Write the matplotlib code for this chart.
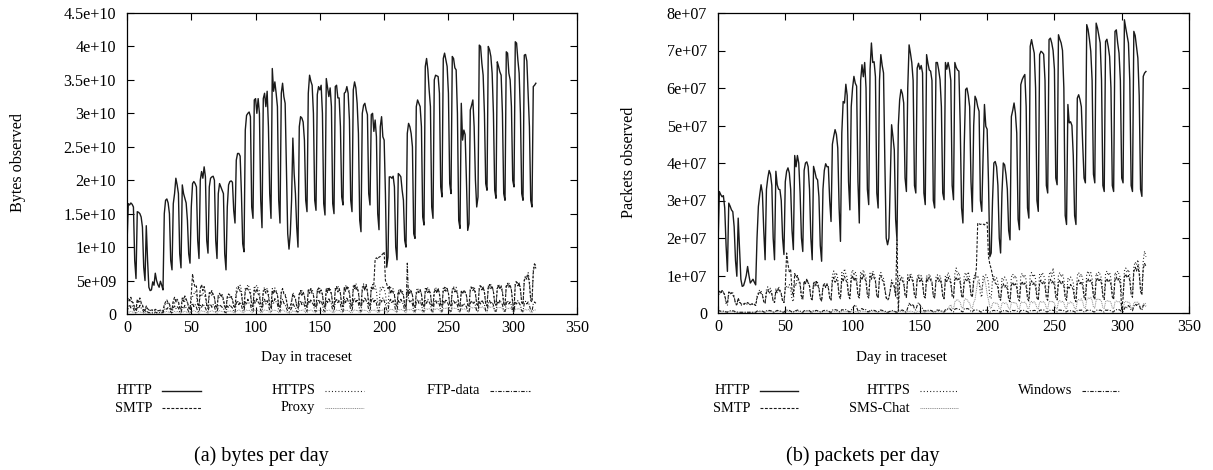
import numpy as np
import matplotlib
matplotlib.use("Agg")
import matplotlib.pyplot as plt
from matplotlib.lines import Line2D

plt.rcParams['font.family'] = ['Liberation Serif', 'DejaVu Serif']

# ---------------------------------------------------------------- data
# one value per day (day 0 .. 318); rows are Mon..Sun weeks after day 0

# (a) bytes per day, HTTP in units of 1e9 bytes
HTTP_BYTES = [10.5,
    16.5, 16.3, 16.6, 16.4, 16.0, 8.0, 5.3,
    15.3, 15.2, 15.0, 14.5, 13.0, 7.0, 5.0,
    13.2, 8.0, 4.0, 3.5, 3.6, 4.8, 4.3,
    6.1, 5.0, 4.4, 4.0, 4.9, 4.3, 3.6,
    15.0, 17.0, 17.2, 16.6, 15.0, 8.0, 6.6,
    16.5, 18.0, 20.3, 19.3, 18.0, 9.0, 6.9,
    19.3, 18.0, 17.3, 16.6, 14.0, 9.0, 7.6,
    16.0, 19.5, 19.8, 19.5, 19.0, 11.0, 8.3,
    20.0, 21.3, 20.3, 22.0, 20.5, 11.0, 9.1,
    19.0, 20.3, 20.5, 20.6, 20.0, 11.0, 8.3,
    18.0, 19.5, 19.0, 18.5, 18.0, 9.0, 6.6,
    16.0, 19.3, 19.8, 19.9, 19.7, 15.5, 13.6,
    23.0, 24.0, 24.0, 23.6, 18.0, 10.5, 9.3,
    27.5, 29.7, 30.0, 30.2, 29.5, 16.0, 14.3,
    32.0, 32.2, 30.0, 32.2, 30.0, 17.0, 12.9,
    32.2, 33.0, 31.0, 33.3, 28.0, 18.0, 14.3,
    36.7, 33.3, 34.7, 33.0, 31.0, 17.0, 13.6,
    33.0, 34.5, 32.5, 31.5, 22.0, 12.0, 9.7,
    12.0, 17.0, 26.3, 21.0, 18.0, 13.0, 10.0,
    28.0, 29.5, 29.3, 28.7, 26.0, 17.0, 15.3,
    33.0, 35.7, 34.8, 34.2, 30.0, 17.0, 15.5,
    32.8, 34.0, 33.5, 34.2, 30.0, 16.5, 14.8,
    35.2, 33.8, 32.5, 33.8, 31.0, 16.5, 15.0,
    34.0, 34.2, 32.3, 32.3, 28.0, 17.5, 16.3,
    33.0, 33.2, 34.0, 33.0, 29.0, 17.0, 15.3,
    33.5, 34.7, 33.8, 31.5, 27.0, 14.0, 12.3,
    30.0, 31.2, 31.5, 30.5, 29.8, 18.0, 16.3,
    29.8, 30.0, 27.3, 29.0, 26.5, 15.0, 12.6,
    28.0, 29.5, 26.5, 26.0, 18.0, 7.0, 8.5,
    20.5, 20.5, 20.3, 20.6, 19.0, 10.0, 8.1,
    21.0, 20.8, 20.5, 18.5, 17.0, 11.0, 10.0,
    27.0, 28.5, 28.0, 27.0, 25.0, 12.0, 11.3,
    31.0, 32.0, 31.5, 31.0, 28.0, 14.5, 13.3,
    37.0, 38.2, 36.5, 33.5, 31.0, 16.0, 14.3,
    35.0, 35.7, 35.6, 35.5, 33.0, 19.0, 17.5,
    38.2, 39.0, 38.0, 37.0, 33.0, 19.5, 18.0,
    38.5, 38.2, 36.8, 36.5, 30.0, 14.0, 12.8,
    31.5, 26.0, 27.5, 26.8, 20.0, 12.5, 13.5,
    30.5, 31.2, 32.0, 28.0, 20.0, 16.0, 17.5,
    40.2, 40.0, 37.5, 35.7, 30.0, 19.5, 18.5,
    40.0, 39.5, 38.5, 36.0, 30.0, 18.5, 17.3,
    37.7, 37.0, 36.2, 35.7, 30.0, 18.0, 17.0,
    39.2, 39.0, 36.0, 35.0, 31.0, 20.0, 19.0,
    40.7, 40.5, 38.0, 36.0, 30.0, 18.0, 17.0,
    38.7, 38.8, 37.8, 33.0, 28.0, 17.0, 16.0,
    34.0, 34.2, 34.5]

# (a) other protocols, units of 1e8 bytes
SMTP_BYTES = [20,
    24, 20, 25, 18, 16, 8, 6,
    22, 18, 24, 17, 14, 7, 5,
    12, 8, 6, 5, 6, 6, 5,
    7, 6, 5, 5, 6, 5, 4,
    14, 18, 21, 16, 15, 8, 6,
    20, 25, 18, 22, 19, 9, 7,
    24, 19, 27, 22, 18, 10, 7,
    30, 60, 46, 40, 42, 16, 11,
    38, 44, 35, 41, 30, 14, 10,
    32, 30, 35, 28, 25, 12, 9,
    28, 31, 26, 29, 22, 11, 8,
    26, 30, 28, 25, 22, 12, 9,
    30, 36, 40, 34, 30, 14, 10,
    34, 40, 37, 34, 30, 13, 11,
    36, 32, 38, 30, 28, 12, 10,
    33, 37, 31, 35, 27, 12, 10,
    35, 30, 36, 33, 28, 12, 9,
    32, 38, 30, 28, 20, 10, 8,
    10, 18, 30, 26, 22, 12, 9,
    30, 35, 28, 33, 27, 13, 10,
    36, 31, 38, 30, 28, 12, 10,
    33, 39, 31, 36, 29, 13, 10,
    38, 32, 40, 34, 30, 13, 11,
    35, 41, 33, 38, 30, 14, 11,
    40, 34, 42, 36, 31, 14, 11,
    38, 44, 36, 40, 32, 14, 12,
    36, 42, 35, 44, 33, 15, 12,
    40, 36, 45, 82, 84, 82, 85,
    86, 88, 90, 93, 50, 45, 38,
    42, 30, 36, 32, 28, 14, 12,
    34, 30, 36, 31, 28, 13, 10,
    32, 36, 30, 34, 28, 12, 10,
    30, 35, 32, 36, 30, 13, 11,
    34, 38, 32, 36, 30, 13, 11,
    33, 37, 31, 38, 30, 14, 11,
    36, 40, 34, 38, 31, 14, 12,
    35, 39, 33, 36, 30, 13, 11,
    34, 30, 36, 33, 28, 13, 11,
    36, 40, 35, 38, 30, 15, 12,
    38, 42, 36, 40, 32, 15, 12,
    40, 44, 38, 42, 33, 16, 13,
    38, 43, 37, 41, 32, 15, 12,
    42, 46, 40, 44, 35, 16, 5,
    44, 48, 42, 46, 36, 17, 14,
    50, 55, 52, 58, 45, 20, 18,
    62, 75, 68]

HTTPS_BYTES = [15,
    18, 22, 17, 20, 15, 8, 6,
    20, 16, 19, 15, 12, 6, 5,
    10, 7, 6, 5, 5, 5, 4,
    6, 5, 5, 4, 5, 4, 4,
    12, 16, 15, 18, 14, 7, 5,
    18, 16, 22, 17, 16, 8, 6,
    20, 24, 18, 22, 17, 9, 6,
    22, 26, 30, 34, 28, 12, 9,
    30, 26, 32, 28, 25, 11, 8,
    28, 32, 27, 30, 24, 10, 8,
    26, 24, 29, 25, 20, 9, 7,
    24, 27, 23, 28, 22, 11, 9,
    38, 42, 40, 43, 36, 16, 12,
    40, 38, 44, 40, 35, 15, 12,
    42, 39, 43, 38, 34, 14, 11,
    36, 40, 35, 38, 32, 13, 10,
    38, 34, 39, 35, 30, 12, 10,
    34, 37, 32, 30, 22, 10, 8,
    12, 20, 32, 28, 24, 12, 9,
    32, 28, 35, 30, 27, 13, 10,
    34, 38, 33, 37, 30, 14, 11,
    38, 33, 39, 34, 30, 13, 11,
    35, 40, 34, 38, 31, 14, 11,
    40, 36, 42, 37, 32, 14, 12,
    37, 43, 38, 41, 33, 15, 12,
    42, 38, 46, 40, 34, 15, 12,
    40, 45, 38, 43, 34, 15, 12,
    38, 44, 36, 42, 34, 15, 12,
    40, 36, 42, 38, 30, 14, 12,
    36, 40, 34, 38, 30, 14, 11,
    34, 38, 33, 36, 29, 13, 11,
    36, 32, 38, 34, 28, 13, 10,
    35, 39, 33, 37, 30, 14, 11,
    38, 34, 40, 36, 30, 14, 11,
    36, 40, 35, 39, 31, 14, 12,
    39, 35, 41, 37, 31, 15, 12,
    37, 41, 36, 40, 32, 15, 12,
    34, 30, 35, 32, 28, 13, 11,
    38, 42, 37, 41, 33, 15, 12,
    40, 44, 38, 42, 34, 16, 13,
    42, 38, 44, 40, 34, 16, 13,
    40, 45, 39, 43, 35, 16, 13,
    44, 40, 46, 42, 36, 17, 14,
    46, 50, 44, 48, 38, 18, 15,
    52, 58, 55, 62, 50, 24, 20,
    66, 76, 72]

PROXY_BYTES = [2,
    3, 3, 4, 3, 3, 1, 1,
    3, 4, 3, 3, 2, 1, 1,
    2, 1, 1, 1, 1, 1, 1,
    1, 1, 1, 1, 1, 1, 1,
    3, 3, 4, 3, 3, 1, 1,
    3, 4, 3, 4, 3, 1, 1,
    4, 3, 4, 3, 3, 1, 1,
    4, 4, 5, 4, 3, 2, 1,
    4, 5, 4, 4, 3, 2, 1,
    4, 4, 5, 4, 3, 2, 1,
    4, 5, 4, 4, 3, 2, 1,
    4, 4, 5, 4, 3, 2, 1,
    5, 5, 6, 5, 4, 2, 2,
    5, 6, 5, 6, 4, 2, 2,
    6, 5, 6, 5, 4, 2, 2,
    5, 6, 5, 6, 4, 2, 2,
    6, 5, 6, 5, 4, 2, 2,
    5, 6, 5, 4, 3, 2, 1,
    2, 3, 5, 4, 4, 2, 2,
    5, 6, 5, 6, 4, 2, 2,
    6, 5, 6, 5, 4, 2, 2,
    5, 6, 5, 6, 4, 2, 2,
    6, 5, 6, 5, 4, 2, 2,
    5, 6, 5, 6, 4, 2, 2,
    6, 5, 6, 5, 4, 2, 2,
    5, 6, 5, 6, 4, 2, 2,
    6, 5, 6, 5, 4, 2, 2,
    5, 6, 5, 6, 4, 2, 2,
    6, 5, 6, 5, 4, 2, 2,
    6, 7, 6, 7, 5, 3, 2,
    7, 6, 7, 6, 5, 3, 2,
    6, 7, 6, 7, 5, 3, 2,
    7, 6, 7, 6, 5, 3, 2,
    7, 8, 7, 8, 6, 3, 2,
    8, 7, 8, 7, 6, 3, 2,
    8, 9, 8, 9, 7, 3, 3,
    9, 8, 9, 8, 7, 3, 3,
    8, 7, 8, 7, 6, 3, 3,
    9, 10, 9, 10, 8, 4, 3,
    10, 9, 11, 10, 8, 4, 3,
    10, 11, 10, 11, 9, 4, 3,
    9, 10, 9, 10, 8, 4, 3,
    8, 9, 8, 9, 7, 3, 3,
    7, 8, 7, 8, 6, 3, 3,
    6, 7, 6, 7, 5, 3, 2,
    5, 6, 6]

FTP_BYTES = [4,
    10, 14, 9, 12, 8, 3, 2,
    11, 8, 13, 9, 7, 3, 2,
    5, 3, 2, 2, 2, 2, 2,
    3, 2, 2, 2, 3, 2, 2,
    6, 9, 7, 10, 8, 3, 2,
    9, 12, 8, 11, 9, 3, 2,
    10, 8, 13, 9, 8, 3, 2,
    12, 16, 11, 14, 10, 4, 3,
    13, 10, 15, 12, 9, 4, 3,
    12, 15, 10, 14, 11, 4, 3,
    11, 14, 12, 10, 9, 3, 2,
    12, 10, 14, 11, 9, 4, 3,
    16, 20, 14, 18, 13, 5, 4,
    18, 14, 22, 16, 14, 5, 4,
    20, 16, 24, 18, 15, 5, 4,
    17, 22, 15, 20, 14, 5, 4,
    21, 16, 23, 18, 15, 5, 4,
    18, 22, 16, 14, 9, 4, 3,
    5, 9, 16, 12, 10, 4, 3,
    16, 20, 14, 18, 13, 5, 4,
    20, 16, 22, 17, 14, 5, 4,
    17, 22, 16, 20, 14, 5, 4,
    21, 17, 24, 18, 15, 5, 4,
    18, 23, 17, 21, 15, 5, 4,
    22, 17, 25, 19, 16, 6, 4,
    19, 24, 18, 22, 16, 6, 4,
    22, 18, 25, 20, 16, 6, 4,
    20, 24, 18, 22, 16, 6, 4,
    22, 18, 24, 20, 14, 5, 4,
    18, 22, 16, 20, 14, 5, 4,
    20, 16, 22, 18, 14, 5, 4,
    76, 22, 18, 21, 15, 5, 4,
    18, 22, 16, 20, 14, 5, 4,
    20, 16, 22, 18, 14, 5, 4,
    17, 21, 16, 19, 14, 5, 4,
    20, 16, 22, 18, 14, 5, 4,
    17, 21, 16, 19, 13, 5, 4,
    14, 12, 16, 13, 11, 4, 3,
    16, 20, 15, 18, 13, 5, 4,
    19, 15, 21, 17, 14, 5, 4,
    16, 20, 15, 18, 13, 5, 4,
    19, 15, 21, 17, 14, 5, 4,
    16, 20, 15, 18, 13, 5, 4,
    18, 15, 20, 16, 13, 5, 4,
    16, 19, 15, 18, 13, 5, 4,
    15, 18, 16]

# (b) packets per day, HTTP in units of 1e6 packets
HTTP_PKTS = [18.0,
    32.4, 31.6, 31.0, 31.3, 28.0, 18.0, 11.1,
    29.3, 28.5, 27.5, 27.0, 23.0, 14.0, 9.8,
    25.3, 17.0, 9.0, 7.1, 7.3, 8.5, 10.0,
    12.4, 10.0, 8.0, 8.5, 9.0, 8.2, 7.5,
    20.0, 28.4, 31.5, 34.2, 32.0, 22.0, 14.2,
    33.0, 36.0, 38.0, 37.0, 34.0, 20.0, 14.2,
    37.8, 34.2, 33.0, 32.9, 30.0, 20.0, 15.6,
    35.0, 37.8, 38.7, 37.3, 33.0, 22.0, 16.9,
    42.0, 39.0, 42.0, 40.0, 32.0, 20.0, 16.4,
    38.0, 40.0, 40.3, 39.0, 33.0, 20.0, 14.2,
    39.1, 37.7, 36.0, 35.5, 31.0, 18.0, 13.8,
    33.0, 38.0, 39.8, 39.0, 39.0, 30.0, 24.4,
    45.0, 47.1, 48.9, 47.6, 44.0, 28.0, 19.1,
    48.0, 56.4, 56.0, 61.0, 58.0, 35.0, 27.5,
    55.0, 60.0, 63.1, 61.3, 60.5, 35.0, 24.0,
    62.0, 66.2, 63.0, 66.8, 60.0, 33.0, 28.9,
    65.0, 72.0, 66.8, 67.0, 63.0, 32.0, 28.0,
    62.0, 68.9, 66.0, 64.0, 40.0, 20.0, 18.2,
    20.0, 35.0, 50.2, 47.0, 43.5, 25.0, 19.5,
    50.0, 56.9, 59.6, 58.5, 56.0, 36.0, 32.4,
    60.0, 71.5, 69.3, 66.8, 62.0, 34.0, 32.0,
    65.3, 66.6, 65.0, 66.0, 64.0, 32.0, 28.9,
    68.9, 66.6, 64.8, 64.5, 62.0, 30.0, 28.0,
    66.8, 66.8, 64.8, 62.2, 55.0, 32.0, 30.2,
    66.8, 65.0, 66.8, 65.0, 62.0, 34.0, 30.2,
    66.8, 65.5, 64.8, 64.5, 50.0, 28.0, 24.0,
    45.0, 59.6, 60.0, 58.0, 55.0, 35.0, 27.0,
    50.0, 57.8, 56.9, 55.0, 53.8, 30.0, 27.1,
    42.0, 55.6, 49.8, 49.0, 35.0, 15.0, 16.0,
    30.0, 40.0, 40.4, 39.0, 34.0, 20.0, 16.0,
    32.0, 40.0, 39.5, 36.9, 33.0, 22.0, 19.5,
    52.4, 54.0, 56.0, 53.3, 48.0, 25.0, 22.2,
    60.9, 62.2, 63.0, 63.6, 55.0, 28.0, 25.3,
    71.1, 72.9, 71.0, 69.3, 60.0, 30.0, 27.1,
    68.9, 69.8, 69.5, 69.0, 62.0, 34.0, 32.0,
    72.9, 73.3, 72.0, 70.0, 65.0, 36.0, 34.2,
    74.2, 73.0, 72.0, 70.0, 60.0, 26.0, 23.6,
    55.6, 50.7, 51.0, 50.0, 42.0, 26.0, 23.6,
    57.3, 58.2, 56.9, 55.0, 45.0, 36.0, 34.7,
    76.9, 75.6, 73.0, 69.8, 62.0, 37.0, 34.7,
    77.3, 76.0, 74.0, 72.0, 62.0, 34.0, 32.4,
    72.4, 73.0, 71.0, 68.4, 60.0, 34.0, 32.4,
    75.1, 75.5, 72.0, 69.3, 62.0, 36.0, 34.7,
    78.2, 76.0, 74.0, 72.0, 62.0, 34.0, 32.4,
    75.1, 74.0, 71.1, 68.0, 58.0, 33.0, 31.1,
    63.1, 64.0, 64.4]

# (b) other protocols, units of 1e5 packets
SMTP_PKTS = [45,
    58, 52, 60, 55, 48, 30, 25,
    56, 50, 54, 48, 42, 26, 22,
    40, 30, 25, 22, 24, 26, 24,
    28, 25, 22, 24, 26, 23, 20,
    40, 50, 58, 52, 48, 30, 26,
    55, 62, 52, 58, 50, 32, 28,
    60, 54, 66, 58, 50, 32, 28,
    70, 160, 130, 110, 115, 60, 45,
    105, 95, 100, 88, 80, 45, 38,
    85, 78, 90, 80, 72, 40, 35,
    80, 72, 84, 74, 66, 38, 32,
    70, 78, 68, 76, 66, 40, 34,
    85, 95, 82, 90, 80, 45, 38,
    92, 84, 98, 88, 80, 45, 38,
    90, 100, 86, 95, 82, 46, 40,
    95, 88, 102, 92, 84, 46, 40,
    98, 90, 104, 94, 84, 47, 40,
    92, 100, 88, 84, 62, 40, 34,
    40, 60, 82, 76, 70, 45, 195,
    5, 85, 92, 86, 80, 48, 42,
    94, 86, 98, 90, 82, 46, 40,
    88, 96, 84, 92, 80, 45, 40,
    92, 85, 96, 88, 80, 45, 40,
    86, 94, 84, 90, 78, 44, 38,
    90, 84, 95, 88, 80, 45, 40,
    88, 96, 86, 92, 80, 45, 40,
    82, 90, 84, 92, 80, 48, 42,
    85, 92, 120, 240, 238, 236, 238,
    237, 235, 240, 242, 150, 130, 118,
    100, 88, 80, 76, 68, 40, 34,
    70, 78, 68, 74, 64, 36, 30,
    74, 82, 72, 78, 68, 38, 32,
    76, 84, 74, 80, 70, 38, 32,
    78, 86, 76, 82, 70, 40, 34,
    80, 88, 78, 84, 72, 40, 34,
    82, 90, 80, 86, 74, 42, 35,
    80, 88, 78, 84, 72, 40, 34,
    72, 66, 76, 70, 62, 36, 30,
    80, 88, 78, 84, 72, 42, 35,
    84, 92, 82, 88, 76, 44, 36,
    86, 94, 84, 90, 78, 44, 36,
    84, 92, 82, 88, 76, 43, 36,
    88, 96, 86, 92, 78, 8, 40,
    96, 104, 94, 100, 86, 50, 42,
    110, 122, 112, 126, 104, 58, 48,
    118, 132, 125]

HTTPS_PKTS = [40,
    55, 60, 52, 58, 45, 25, 20,
    52, 58, 50, 54, 44, 24, 20,
    35, 28, 22, 20, 22, 24, 22,
    26, 24, 22, 22, 24, 22, 20,
    45, 55, 62, 58, 50, 30, 26,
    62, 70, 60, 66, 56, 32, 28,
    66, 58, 70, 62, 54, 32, 28,
    62, 72, 68, 76, 64, 36, 30,
    80, 72, 96, 84, 72, 40, 34,
    86, 78, 92, 82, 72, 40, 34,
    78, 86, 74, 82, 70, 38, 32,
    72, 80, 70, 78, 70, 42, 36,
    100, 112, 96, 108, 92, 50, 42,
    108, 98, 118, 104, 95, 52, 44,
    104, 115, 100, 110, 96, 52, 44,
    110, 100, 115, 104, 95, 52, 44,
    106, 98, 112, 102, 92, 50, 42,
    100, 108, 96, 92, 70, 42, 36,
    40, 62, 88, 80, 72, 46, 40,
    92, 100, 94, 98, 86, 50, 42,
    102, 94, 106, 98, 88, 50, 42,
    96, 104, 92, 100, 86, 48, 42,
    100, 92, 104, 96, 86, 48, 42,
    95, 102, 92, 100, 85, 48, 40,
    100, 94, 108, 98, 88, 50, 42,
    104, 120, 100, 108, 92, 52, 44,
    100, 108, 96, 110, 92, 52, 44,
    96, 104, 94, 100, 88, 50, 42,
    98, 92, 102, 96, 80, 44, 38,
    90, 98, 88, 94, 82, 44, 38,
    92, 86, 96, 90, 80, 44, 38,
    96, 104, 92, 100, 86, 48, 40,
    98, 106, 94, 102, 88, 48, 40,
    100, 108, 96, 104, 90, 50, 42,
    104, 96, 108, 100, 90, 50, 42,
    102, 110, 98, 120, 92, 52, 44,
    100, 108, 96, 104, 90, 50, 42,
    92, 86, 96, 90, 80, 46, 40,
    100, 108, 96, 104, 90, 52, 44,
    104, 112, 100, 108, 92, 52, 44,
    106, 98, 110, 102, 92, 52, 44,
    104, 112, 100, 108, 92, 52, 44,
    108, 100, 112, 104, 94, 54, 46,
    112, 120, 108, 116, 100, 58, 48,
    124, 136, 128, 142, 118, 68, 56,
    140, 165, 150]

SMS_PKTS = [2,
    3, 4, 3, 4, 3, 2, 2,
    3, 4, 3, 4, 3, 2, 2,
    2, 2, 2, 2, 2, 2, 2,
    2, 2, 2, 2, 2, 2, 2,
    3, 4, 3, 4, 3, 2, 2,
    4, 5, 4, 5, 4, 2, 2,
    4, 5, 4, 5, 4, 2, 2,
    4, 5, 4, 5, 4, 2, 2,
    5, 4, 5, 4, 4, 2, 2,
    4, 5, 4, 5, 4, 2, 2,
    5, 4, 5, 4, 4, 2, 2,
    4, 5, 4, 5, 4, 2, 2,
    5, 4, 5, 4, 4, 2, 2,
    4, 5, 4, 5, 4, 2, 2,
    5, 4, 5, 4, 4, 2, 2,
    4, 5, 4, 5, 4, 2, 2,
    5, 4, 5, 4, 4, 2, 2,
    4, 5, 4, 4, 3, 2, 2,
    3, 4, 4, 5, 4, 2, 2,
    4, 5, 4, 5, 4, 2, 2,
    5, 4, 5, 4, 4, 2, 2,
    4, 5, 4, 5, 4, 2, 2,
    5, 4, 5, 4, 4, 2, 2,
    4, 5, 4, 5, 4, 2, 2,
    5, 8, 12, 18, 22, 12, 10,
    30, 34, 36, 32, 28, 15, 12,
    34, 38, 36, 30, 26, 14, 12,
    28, 36, 60, 85, 80, 70, 60,
    82, 90, 75, 50, 35, 15, 12,
    25, 28, 26, 27, 24, 12, 10,
    26, 28, 25, 27, 23, 12, 10,
    27, 29, 26, 28, 24, 12, 10,
    28, 30, 27, 29, 25, 13, 11,
    28, 31, 27, 30, 25, 13, 11,
    29, 31, 28, 30, 26, 13, 11,
    30, 32, 29, 31, 26, 13, 11,
    30, 33, 29, 31, 27, 14, 11,
    28, 26, 30, 27, 24, 12, 10,
    32, 36, 34, 38, 30, 15, 12,
    36, 40, 38, 42, 34, 16, 13,
    34, 38, 35, 37, 30, 15, 12,
    30, 33, 31, 32, 28, 14, 11,
    29, 32, 30, 31, 27, 13, 11,
    28, 31, 29, 30, 26, 13, 11,
    27, 30, 28, 29, 25, 12, 10,
    24, 26, 25]

WIN_PKTS = [4,
    6, 5, 6, 5, 5, 3, 2,
    5, 6, 5, 6, 5, 3, 2,
    3, 2, 2, 2, 2, 2, 2,
    2, 2, 2, 2, 2, 2, 2,
    5, 6, 5, 6, 5, 3, 2,
    6, 5, 7, 6, 5, 3, 2,
    5, 7, 6, 5, 5, 3, 2,
    6, 8, 6, 7, 5, 3, 2,
    7, 6, 8, 6, 5, 3, 2,
    6, 7, 6, 8, 6, 3, 2,
    7, 6, 7, 6, 5, 3, 2,
    6, 7, 6, 7, 6, 3, 2,
    8, 7, 9, 8, 7, 4, 3,
    9, 8, 10, 9, 7, 4, 3,
    8, 12, 18, 22, 15, 6, 4,
    10, 12, 9, 11, 8, 4, 3,
    8, 7, 8, 7, 6, 3, 3,
    7, 8, 7, 6, 5, 3, 2,
    3, 5, 7, 6, 5, 3, 2,
    7, 8, 7, 8, 6, 3, 3,
    14, 26, 22, 18, 24, 10, 8,
    20, 28, 22, 16, 12, 6, 5,
    8, 7, 8, 7, 6, 3, 3,
    7, 8, 7, 8, 6, 3, 3,
    9, 11, 10, 12, 9, 4, 3,
    10, 12, 11, 10, 9, 4, 3,
    11, 10, 12, 11, 9, 4, 3,
    8, 7, 8, 7, 6, 3, 3,
    7, 8, 7, 8, 6, 3, 3,
    6, 7, 6, 7, 6, 3, 2,
    7, 6, 7, 6, 5, 3, 2,
    6, 7, 6, 7, 6, 3, 2,
    7, 6, 7, 6, 5, 3, 2,
    6, 7, 6, 7, 6, 3, 2,
    7, 8, 7, 8, 6, 3, 3,
    8, 7, 8, 7, 6, 3, 3,
    7, 8, 7, 8, 6, 3, 3,
    6, 5, 6, 5, 5, 3, 2,
    7, 8, 7, 8, 6, 3, 3,
    8, 7, 8, 7, 6, 3, 3,
    7, 8, 7, 8, 6, 3, 3,
    8, 7, 8, 7, 6, 3, 3,
    8, 9, 8, 9, 7, 3, 3,
    12, 18, 14, 20, 16, 8, 6,
    18, 24, 20, 26, 22, 10, 8,
    20, 22, 18]

X_TICKS = [0, 50, 100, 150, 200, 250, 300, 350]
BYTES_YTICKS = [0, 5e9, 1e10, 1.5e10, 2e10, 2.5e10, 3e10, 3.5e10, 4e10, 4.5e10]
BYTES_YLABELS = ["0", "5e+09", "1e+10", "1.5e+10", "2e+10", "2.5e+10",
                 "3e+10", "3.5e+10", "4e+10", "4.5e+10"]
PKTS_YTICKS = [0, 1e7, 2e7, 3e7, 4e7, 5e7, 6e7, 7e7, 8e7]
PKTS_YLABELS = ["0", "1e+07", "2e+07", "3e+07", "4e+07", "5e+07",
                "6e+07", "7e+07", "8e+07"]

# ---------------------------------------------------------------- styles
INK = '#1a1a1a'
STYLES = {
    'solid':   dict(color=INK, lw=1.0, ls='-'),
    'dashed':  dict(color=INK, lw=0.8, ls=(0, (2.6, 1.4))),
    'dotted':  dict(color=INK, lw=0.8, ls=(0, (0.9, 2.0))),
    'fine':    dict(color='#8a8a8a', lw=0.7, ls=(0, (1.0, 0.9))),
    'dashdot': dict(color=INK, lw=0.8, ls=(0, (3.2, 1.4, 0.9, 1.4))),
}

W, H = 1213, 470
fig = plt.figure(figsize=(W / 100, H / 100), dpi=100)


def px_box(x0, x1, ytop, ybot):
    return [x0 / W, 1 - ybot / H, (x1 - x0) / W, (ybot - ytop) / H]


def fx(x):
    return x / W


def fy(y):
    return 1 - y / H


TICK_FS = 11.6
LEG_FS = 10.4


def setup_axes(ax, ymax, yticks, ylabels):
    ax.set_xlim(0, 350)
    ax.set_ylim(0, ymax)
    ax.set_xticks(X_TICKS)
    ax.set_xticklabels([str(t) for t in X_TICKS])
    ax.set_yticks(yticks)
    ax.set_yticklabels(ylabels)
    ax.tick_params(direction='in', length=5, width=0.8, top=True, right=True,
                   labelsize=TICK_FS, color='black')
    ax.tick_params(axis='x', pad=4.5)
    ax.tick_params(axis='y', pad=8)
    for s in ax.spines.values():
        s.set_linewidth(0.9)
        s.set_color('black')


def draw_legend(entries):
    # entries: (label, style, text_right_x, line_x0, line_x1, row_y) in pixels
    for label, style, xr, l0, l1, yy in entries:
        fig.text(fx(xr), fy(yy), label, ha='right', va='center', fontsize=LEG_FS)
        st = STYLES[style]
        fig.add_artist(Line2D([fx(l0), fx(l1)], [fy(yy), fy(yy)],
                              transform=fig.transFigure, color=st['color'],
                              lw=st['lw'], ls=st['ls']))


# ---------------------------------------------------------------- (a) bytes
axA = fig.add_axes(px_box(127, 577, 13, 314))
axA.plot(np.arange(len(PROXY_BYTES)), np.array(PROXY_BYTES) * 1e8, **STYLES['fine'])
axA.plot(np.arange(len(FTP_BYTES)), np.array(FTP_BYTES) * 1e8, **STYLES['dashdot'])
axA.plot(np.arange(len(HTTPS_BYTES)), np.array(HTTPS_BYTES) * 1e8, **STYLES['dotted'])
axA.plot(np.arange(len(SMTP_BYTES)), np.array(SMTP_BYTES) * 1e8, **STYLES['dashed'])
axA.plot(np.arange(len(HTTP_BYTES)), np.array(HTTP_BYTES) * 1e9, **STYLES['solid'])
setup_axes(axA, 4.5e10, BYTES_YTICKS, BYTES_YLABELS)

fig.text(fx(18), fy(163), "Bytes observed", rotation=90, ha='center', va='center',
         fontsize=11.6)
fig.text(fx(306), fy(357), "Day in traceset", ha='center', va='center', fontsize=10.9)
draw_legend([
    ("HTTP", 'solid', 152, 162, 201, 391),
    ("SMTP", 'dashed', 152, 162, 201, 408),
    ("HTTPS", 'dotted', 315, 325, 364, 391),
    ("Proxy", 'fine', 315, 325, 364, 408),
    ("FTP-data", 'dashdot', 480, 490, 530, 391),
])
fig.text(fx(261), fy(456), "(a) bytes per day", ha='center', va='center', fontsize=14.5)

# ---------------------------------------------------------------- (b) packets
axB = fig.add_axes(px_box(718, 1189, 13, 313))
axB.plot(np.arange(len(SMS_PKTS)), np.array(SMS_PKTS) * 1e5, **STYLES['fine'])
axB.plot(np.arange(len(WIN_PKTS)), np.array(WIN_PKTS) * 1e5, **STYLES['dashdot'])
axB.plot(np.arange(len(HTTPS_PKTS)), np.array(HTTPS_PKTS) * 1e5, **STYLES['dotted'])
axB.plot(np.arange(len(SMTP_PKTS)), np.array(SMTP_PKTS) * 1e5, **STYLES['dashed'])
axB.plot(np.arange(len(HTTP_PKTS)), np.array(HTTP_PKTS) * 1e6, **STYLES['solid'])
setup_axes(axB, 8e7, PKTS_YTICKS, PKTS_YLABELS)

fig.text(fx(629), fy(162), "Packets observed", rotation=90, ha='center', va='center',
         fontsize=11.6)
fig.text(fx(901), fy(357), "Day in traceset", ha='center', va='center', fontsize=10.9)
draw_legend([
    ("HTTP", 'solid', 750, 760, 798, 391),
    ("SMTP", 'dashed', 750, 760, 798, 408),
    ("HTTPS", 'dotted', 910, 920, 958, 391),
    ("SMS-Chat", 'fine', 910, 920, 958, 408),
    ("Windows", 'dashdot', 1072, 1082, 1120, 391),
])
fig.text(fx(863), fy(456), "(b) packets per day", ha='center', va='center', fontsize=14.5)

fig.savefig("out.png", dpi=100)
